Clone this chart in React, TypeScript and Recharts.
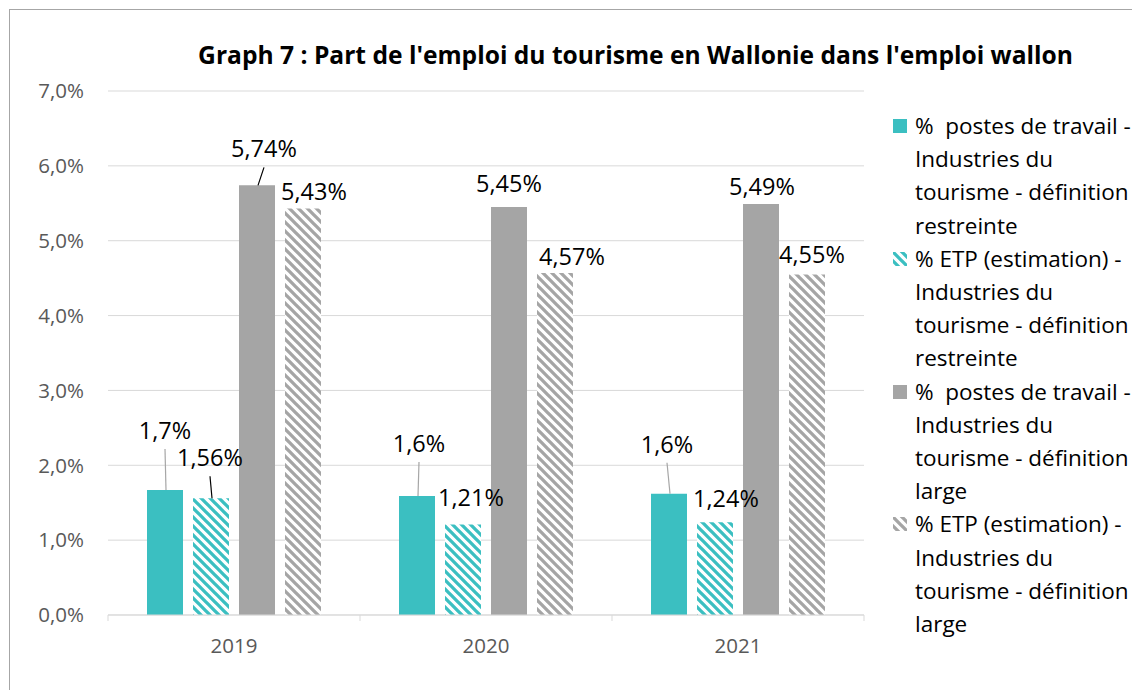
import React from 'react'
import { Bar, BarChart, CartesianGrid, LabelList, XAxis, YAxis } from 'recharts'

// Valeurs (en %)
const YEARS = ['2019', '2020', '2021']
const POSTES_RESTREINTE = [1.67, 1.59, 1.62]
const ETP_RESTREINTE = [1.56, 1.21, 1.24]
const POSTES_LARGE = [5.74, 5.45, 5.49]
const ETP_LARGE = [5.43, 4.57, 4.55]
const Y_TICKS = [0, 1, 2, 3, 4, 5, 6, 7]

const SERIES_NAMES = [
  '%  postes de travail - Industries du tourisme - définition restreinte',
  '% ETP (estimation) - Industries du tourisme - définition restreinte',
  '%  postes de travail - Industries du tourisme - définition large',
  '% ETP (estimation) - Industries du tourisme - définition large',
]
const LEGEND_LINES = [
  ['%  postes de travail -', 'Industries du', 'tourisme - définition', 'restreinte'],
  ['% ETP (estimation) -', 'Industries du', 'tourisme - définition', 'restreinte'],
  ['%  postes de travail -', 'Industries du', 'tourisme - définition', 'large'],
  ['% ETP (estimation) -', 'Industries du', 'tourisme - définition', 'large'],
]

const TEAL = '#3BBFC1'
const GREY = '#A5A5A5'
const FONT = '"Open Sans", Lato, sans-serif'

const data = YEARS.map((year, i) => ({
  year,
  postesRestreinte: POSTES_RESTREINTE[i],
  etpRestreinte: ETP_RESTREINTE[i],
  postesLarge: POSTES_LARGE[i],
  etpLarge: ETP_LARGE[i],
}))

// décalage des étiquettes (Excel les a déplacées à la main)
type Off = { dx: number; dy: number; leader?: string }
const OFF_POSTES_R: Off[] = [
  { dx: 0, dy: -60, leader: '#A6A6A6' },
  { dx: 2, dy: -53, leader: '#A6A6A6' },
  { dx: -2, dy: -50, leader: '#A6A6A6' },
]
const OFF_ETP_R: Off[] = [
  { dx: -1, dy: -41, leader: '#000' },
  { dx: 8, dy: -27 },
  { dx: 11, dy: -24 },
]
const OFF_POSTES_L: Off[] = [
  { dx: 7, dy: -37, leader: '#000' },
  { dx: 0, dy: -24 },
  { dx: 1, dy: -18 },
]
const OFF_ETP_L: Off[] = [
  { dx: 11, dy: -18 },
  { dx: 17, dy: -17 },
  { dx: 5, dy: -20 },
]

const fmt = (v: number, d: number) => v.toFixed(d).replace('.', ',') + '%'

function makeLabel(offsets: Off[], decimals: number) {
  return (props: any) => {
    const { x, y, width, value, index } = props
    const o = offsets[index] || { dx: 0, dy: -18 }
    const cx = Number(x) + Number(width) / 2
    const top = Number(y)
    const lx = cx + o.dx
    const ly = top + o.dy
    return (
      <g>
        {o.leader && (
          <line x1={lx} y1={ly + 19} x2={cx + 1} y2={top} stroke={o.leader} strokeWidth={1.2} />
        )}
        <text
          x={lx}
          y={ly}
          textAnchor="middle"
          dominantBaseline="central"
          fontFamily={FONT}
          fontSize={23.5}
          fill="#000"
        >
          {fmt(Number(value), decimals)}
        </text>
      </g>
    )
  }
}

function YearTick(props: any) {
  const { x, y, payload, width, visibleTicksCount, index } = props
  const half = (Number(width) || 756) / (visibleTicksCount || 3) / 2
  const last = index === (visibleTicksCount || 3) - 1
  return (
    <g>
      <line x1={x - half} y1={y} x2={x - half} y2={y + 6} stroke="#D9D9D9" />
      {last && <line x1={x + half} y1={y} x2={x + half} y2={y + 6} stroke="#D9D9D9" />}
      <text
        x={x}
        y={y + 30}
        textAnchor="middle"
        dominantBaseline="central"
        fontFamily={FONT}
        fontSize={20.5}
        fill="#595959"
      >
        {payload.value}
      </text>
    </g>
  )
}

function Hatch({ id, color }: { id: string; color: string }) {
  return (
    <pattern id={id} patternUnits="userSpaceOnUse" width={9} height={9}>
      <rect width={9} height={9} fill="#fff" />
      <path d="M-3,-3 L12,12 M-3,6 L3,12 M6,-3 L12,3" stroke={color} strokeWidth={3.3} />
    </pattern>
  )
}

function Swatch({ i }: { i: number }) {
  const color = i < 2 ? TEAL : GREY
  const hatched = i % 2 === 1
  return (
    <svg width={14} height={14} style={{ position: 'absolute', left: 0, top: 10 }}>
      <defs>
        <Hatch id={'lg' + i} color={color} />
      </defs>
      <rect width={14} height={14} fill={hatched ? `url(#lg${i})` : color} />
    </svg>
  )
}

export default function App() {
  return (
    <div
      style={{
        position: 'fixed',
        left: 0,
        top: 0,
        width: 1132,
        height: 690,
        overflow: 'hidden',
        background: '#fff',
        fontFamily: FONT,
      }}
    >
      <div
        style={{
          position: 'absolute',
          left: 9,
          top: 9,
          width: 1300,
          height: 800,
          border: '1px solid #A6A6A6',
        }}
      />
      <div
        style={{
          position: 'absolute',
          left: 0,
          top: 40,
          width: 1271,
          textAlign: 'center',
          fontWeight: 700,
          fontSize: 24.6,
          lineHeight: '30px',
          color: '#000',
          whiteSpace: 'nowrap',
        }}
      >
        Graph 7 : Part de l'emploi du tourisme en Wallonie dans l'emploi wallon
      </div>
      <div style={{ position: 'absolute', left: 0, top: 0 }}>
        <BarChart
          width={880}
          height={690}
          data={data}
          margin={{ top: 91, right: 16, bottom: 45, left: 8 }}
          barGap={10}
          barCategoryGap={39}
        >
          <defs>
            <Hatch id="hatchTeal" color={TEAL} />
            <Hatch id="hatchGrey" color={GREY} />
          </defs>
          <CartesianGrid vertical={false} stroke="#D9D9D9" />
          <XAxis
            dataKey="year"
            axisLine={{ stroke: '#D9D9D9' }}
            tickLine={false}
            tickSize={0}
            tickMargin={0}
            height={30}
            tick={<YearTick />}
          />
          <YAxis
            domain={[0, 7]}
            ticks={Y_TICKS}
            width={100}
            axisLine={false}
            tickLine={false}
            tickSize={0}
            tickMargin={24}
            tickFormatter={(v: number) => fmt(v, 1)}
            tick={{ fill: '#595959', fontSize: 20.5, fontFamily: FONT }}
          />
          <Bar dataKey="postesRestreinte" name={SERIES_NAMES[0]} fill={TEAL} barSize={36} isAnimationActive={false}>
            <LabelList dataKey="postesRestreinte" content={makeLabel(OFF_POSTES_R, 1)} />
          </Bar>
          <Bar dataKey="etpRestreinte" name={SERIES_NAMES[1]} fill="url(#hatchTeal)" barSize={36} isAnimationActive={false}>
            <LabelList dataKey="etpRestreinte" content={makeLabel(OFF_ETP_R, 2)} />
          </Bar>
          <Bar dataKey="postesLarge" name={SERIES_NAMES[2]} fill={GREY} barSize={36} isAnimationActive={false}>
            <LabelList dataKey="postesLarge" content={makeLabel(OFF_POSTES_L, 2)} />
          </Bar>
          <Bar dataKey="etpLarge" name={SERIES_NAMES[3]} fill="url(#hatchGrey)" barSize={36} isAnimationActive={false}>
            <LabelList dataKey="etpLarge" content={makeLabel(OFF_ETP_L, 2)} />
          </Bar>
        </BarChart>
      </div>
      <div style={{ position: 'absolute', left: 893, top: 109, width: 260 }}>
        {LEGEND_LINES.map((lines, i) => (
          <div key={i} style={{ position: 'relative', paddingLeft: 22 }}>
            <Swatch i={i} />
            {lines.map((l, j) => (
              <div key={j} style={{ fontSize: 22.5, lineHeight: '33.2px', whiteSpace: 'pre', color: '#000' }}>
                {l}
              </div>
            ))}
          </div>
        ))}
      </div>
    </div>
  )
}
